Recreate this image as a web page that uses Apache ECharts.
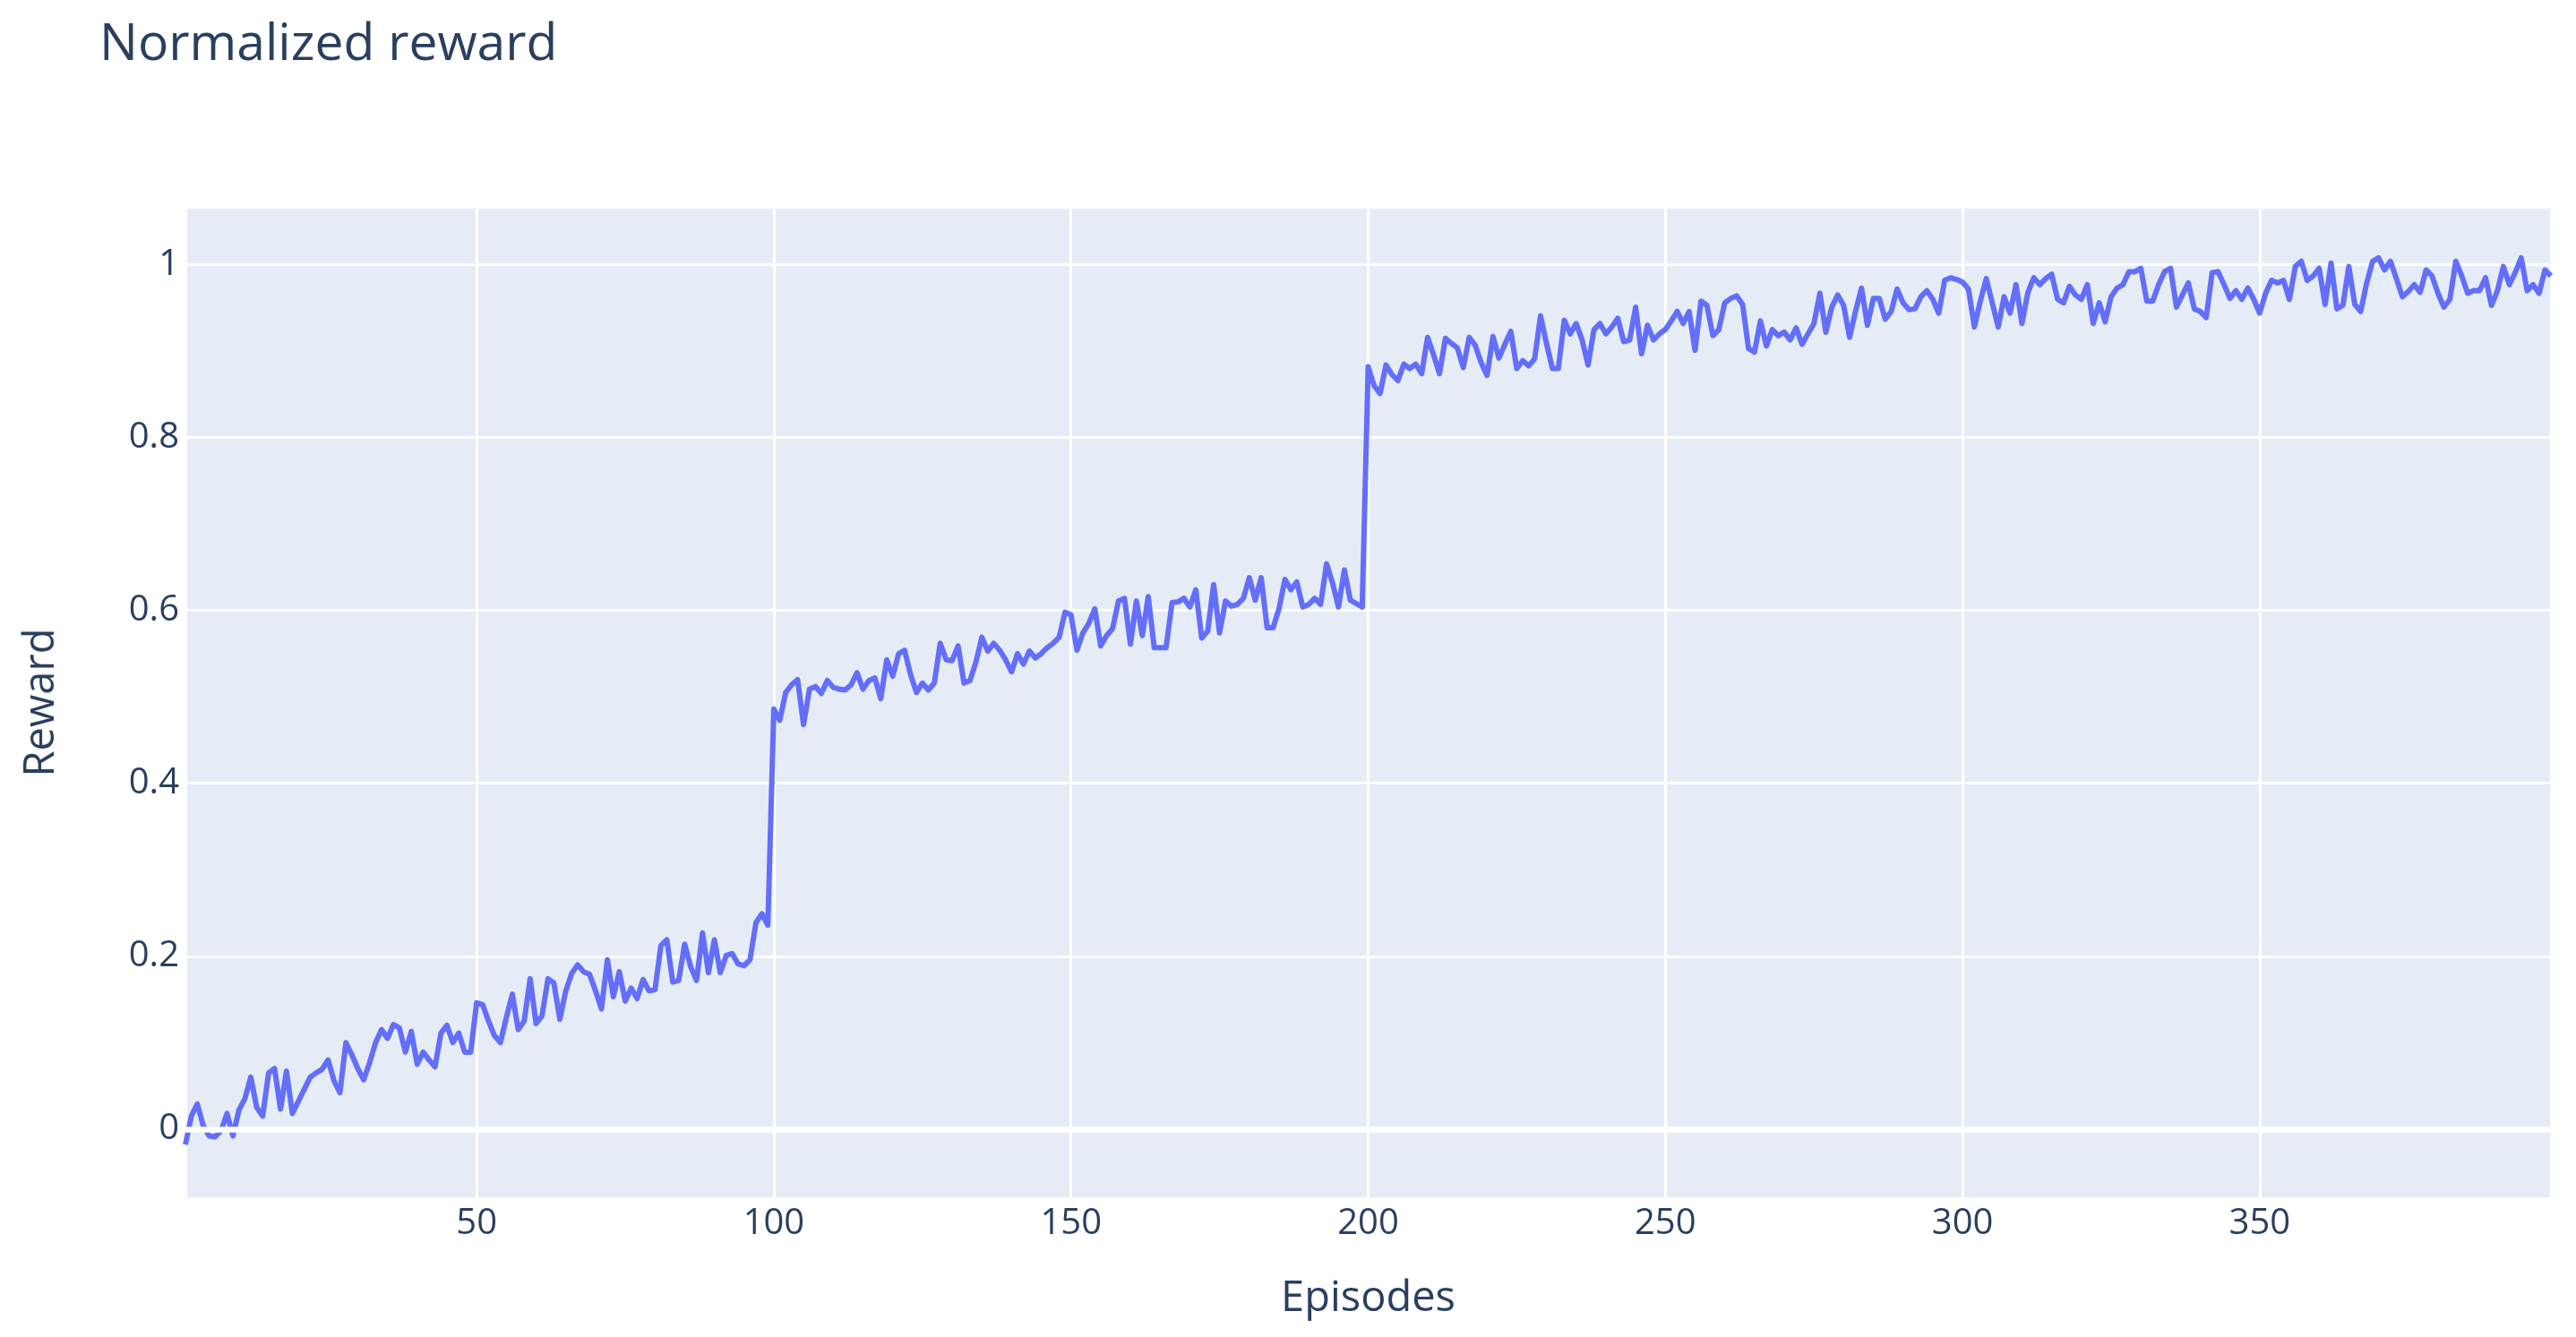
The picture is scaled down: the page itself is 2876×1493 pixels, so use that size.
<!DOCTYPE html>
<html>
<head>
<meta charset="utf-8">
<script src="https://cdn.jsdelivr.net/npm/echarts@6/dist/echarts.min.js"></script>
<style>
html,body{margin:0;padding:0;background:#fff;}
#chart{width:2876px;height:1493px;}
</style>
</head>
<body>
<div id="chart"></div>
<script>
// Episodes 1..399 (x values)
const firstEpisode = 1;
const lastEpisode = 399;

// Reward values, episodes 1-50
const rewards001_050 = [
  -0.018, 0.015, 0.029, 0.004, -0.008, -0.009, -0.002, 0.018, -0.008, 0.022,
  0.035, 0.060, 0.025, 0.015, 0.065, 0.070, 0.023, 0.067, 0.018, 0.032,
  0.046, 0.060, 0.065, 0.069, 0.080, 0.056, 0.042, 0.100, 0.086, 0.070,
  0.057, 0.077, 0.100, 0.115, 0.105, 0.121, 0.117, 0.089, 0.113, 0.075,
  0.089, 0.080, 0.072, 0.111, 0.120, 0.100, 0.111, 0.089, 0.089, 0.146
];
// episodes 51-99
const rewards051_099 = [
  0.144, 0.125, 0.108, 0.100, 0.129, 0.156, 0.115, 0.125, 0.174, 0.122,
  0.131, 0.174, 0.169, 0.127, 0.160, 0.180, 0.190, 0.182, 0.179, 0.160,
  0.139, 0.196, 0.153, 0.182, 0.148, 0.163, 0.151, 0.173, 0.160, 0.161,
  0.212, 0.219, 0.170, 0.172, 0.214, 0.188, 0.172, 0.227, 0.181, 0.219,
  0.181, 0.201, 0.203, 0.191, 0.189, 0.196, 0.239, 0.249, 0.236
];
// episodes 100-150
const rewards100_150 = [
  0.486, 0.473, 0.505, 0.514, 0.520, 0.468, 0.509, 0.512, 0.504, 0.519,
  0.511, 0.509, 0.508, 0.514, 0.528, 0.509, 0.519, 0.522, 0.498, 0.543,
  0.524, 0.550, 0.554, 0.526, 0.505, 0.516, 0.508, 0.516, 0.562, 0.543,
  0.542, 0.559, 0.516, 0.519, 0.540, 0.569, 0.553, 0.562, 0.554, 0.543,
  0.529, 0.550, 0.538, 0.553, 0.545, 0.550, 0.557, 0.562, 0.569, 0.598,
  0.595
];
// episodes 151-199
const rewards151_199 = [
  0.554, 0.574, 0.585, 0.602, 0.559, 0.571, 0.579, 0.611, 0.614, 0.561,
  0.611, 0.571, 0.616, 0.557, 0.557, 0.557, 0.609, 0.610, 0.614, 0.604,
  0.624, 0.568, 0.576, 0.630, 0.574, 0.611, 0.605, 0.607, 0.614, 0.638,
  0.612, 0.638, 0.580, 0.580, 0.602, 0.636, 0.624, 0.633, 0.604, 0.607,
  0.614, 0.607, 0.654, 0.632, 0.604, 0.647, 0.612, 0.608, 0.604
];
// episodes 200-250
const rewards200_250 = [
  0.882, 0.860, 0.851, 0.884, 0.873, 0.866, 0.885, 0.880, 0.885, 0.874,
  0.916, 0.896, 0.874, 0.915, 0.909, 0.904, 0.881, 0.916, 0.907, 0.887,
  0.872, 0.917, 0.892, 0.908, 0.923, 0.880, 0.889, 0.883, 0.891, 0.941,
  0.909, 0.880, 0.880, 0.936, 0.920, 0.932, 0.913, 0.884, 0.925, 0.932,
  0.920, 0.928, 0.938, 0.911, 0.913, 0.951, 0.897, 0.930, 0.913, 0.920,
  0.925
];
// episodes 251-300
const rewards251_300 = [
  0.935, 0.946, 0.932, 0.946, 0.901, 0.958, 0.953, 0.918, 0.925, 0.956,
  0.961, 0.964, 0.954, 0.903, 0.899, 0.935, 0.906, 0.925, 0.918, 0.922,
  0.913, 0.927, 0.908, 0.920, 0.932, 0.967, 0.922, 0.951, 0.965, 0.953,
  0.916, 0.946, 0.973, 0.930, 0.961, 0.961, 0.937, 0.946, 0.972, 0.956,
  0.948, 0.949, 0.963, 0.970, 0.960, 0.944, 0.982, 0.985, 0.983, 0.980
];
// episodes 301-350
const rewards301_350 = [
  0.972, 0.928, 0.958, 0.984, 0.956, 0.928, 0.963, 0.944, 0.977, 0.932,
  0.968, 0.985, 0.977, 0.984, 0.989, 0.960, 0.956, 0.975, 0.965, 0.960,
  0.977, 0.932, 0.956, 0.934, 0.963, 0.973, 0.977, 0.992, 0.992, 0.996,
  0.958, 0.958, 0.977, 0.992, 0.996, 0.951, 0.965, 0.979, 0.949, 0.946,
  0.939, 0.991, 0.992, 0.977, 0.961, 0.970, 0.960, 0.973, 0.960, 0.944
];
// episodes 351-399
const rewards351_399 = [
  0.967, 0.982, 0.979, 0.982, 0.960, 0.998, 1.004, 0.982, 0.987, 0.996,
  0.954, 1.002, 0.949, 0.953, 0.998, 0.954, 0.946, 0.979, 1.004, 1.008,
  0.994, 1.004, 0.984, 0.963, 0.969, 0.977, 0.968, 0.994, 0.987, 0.967,
  0.951, 0.960, 1.004, 0.987, 0.967, 0.970, 0.970, 0.985, 0.953, 0.970,
  0.998, 0.977, 0.991, 1.008, 0.970, 0.977, 0.967, 0.994, 0.987
];

const titleText = 'Normalized reward';
const xTitle = 'Episodes';
const yTitle = 'Reward';

const rewards = [].concat(rewards001_050, rewards051_099, rewards100_150,
  rewards151_199, rewards200_250, rewards251_300, rewards301_350, rewards351_399);
const seriesData = rewards.map((r, i) => [firstEpisode + i, r]);

const textColor = '#2a3f5f';
const font = '"Open Sans", verdana, arial, sans-serif';

const chart = echarts.init(document.getElementById('chart'), null, {renderer: 'canvas'});
chart.setOption({
  backgroundColor: '#ffffff',
  animation: false,
  title: {
    text: titleText,
    left: 106,
    top: 17,
    textStyle: {color: textColor, fontFamily: font, fontSize: 57, fontWeight: 'normal'}
  },
  grid: {left: 207, right: 28, top: 231, bottom: 155, show: true,
         backgroundColor: '#E5ECF6', borderWidth: 0},
  xAxis: {
    type: 'value',
    min: firstEpisode,
    max: lastEpisode,
    minInterval: 50,
    maxInterval: 50,
    name: xTitle,
    nameLocation: 'middle',
    nameGap: 89,
    nameTextStyle: {color: textColor, fontFamily: font, fontSize: 47},
    axisLine: {show: false},
    axisTick: {show: false},
    axisLabel: {
      color: textColor, fontFamily: font, fontSize: 40, margin: 9,
      showMinLabel: false, showMaxLabel: false,
      formatter: v => (v % 50 === 0 ? String(v) : '')
    },
    splitLine: {show: true, lineStyle: {color: '#ffffff', width: 3}}
  },
  yAxis: {
    type: 'value',
    min: -0.08,
    max: 1.067,
    minInterval: 0.2,
    maxInterval: 0.2,
    name: yTitle,
    nameLocation: 'middle',
    nameGap: 137,
    nameTextStyle: {color: textColor, fontFamily: font, fontSize: 47},
    axisLine: {show: false},
    axisTick: {show: false},
    axisLabel: {
      color: textColor, fontFamily: font, fontSize: 40, margin: 7,
      showMinLabel: false, showMaxLabel: false,
      formatter: v => {
        const k = Math.round(v * 5);
        return Math.abs(v * 5 - k) < 1e-6 ? String(+(k / 5).toFixed(1)) : '';
      }
    },
    splitLine: {show: true, lineStyle: {color: '#ffffff', width: 3}}
  },
  series: [{
    type: 'line',
    data: seriesData,
    showSymbol: false,
    symbol: 'none',
    smooth: false,
    lineStyle: {color: '#636efa', width: 6, join: 'round'},
    itemStyle: {color: '#636efa'},
    markLine: {
      silent: true,
      symbol: 'none',
      label: {show: false},
      lineStyle: {color: '#ffffff', width: 6.5, type: 'solid'},
      data: [{yAxis: 0}]
    },
    z: 3
  }]
});
</script>
</body>
</html>
